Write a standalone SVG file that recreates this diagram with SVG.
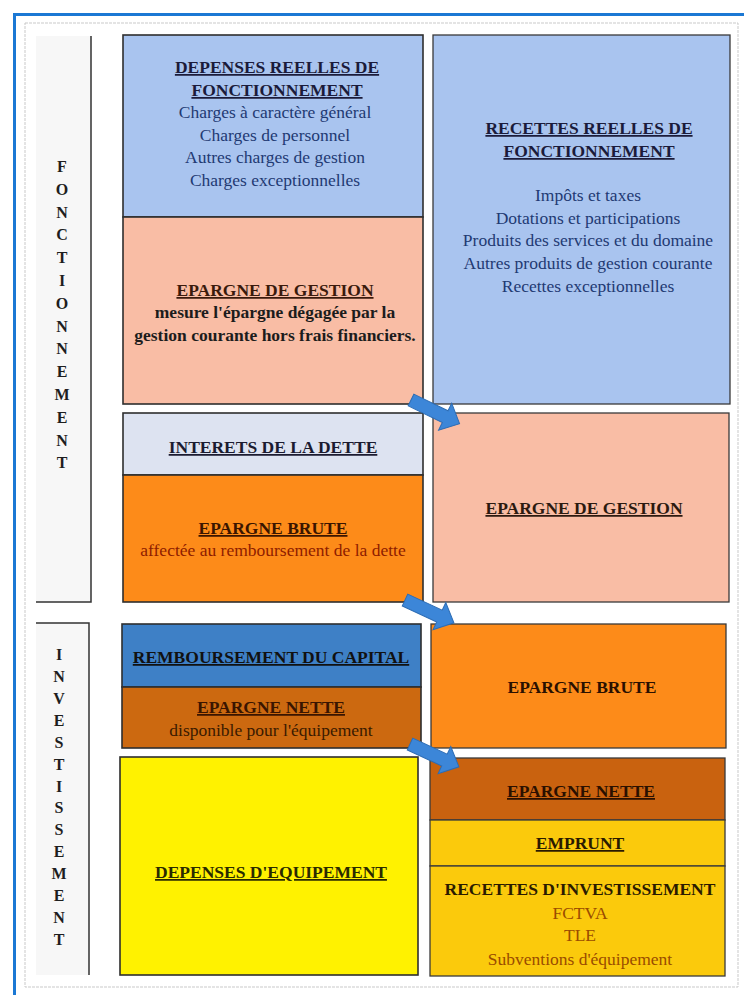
<svg xmlns="http://www.w3.org/2000/svg" width="744" height="995" viewBox="0 0 744 995">
<defs>
<style>
.t{font-family:"Liberation Serif","Times New Roman",serif;font-size:17.5px;text-anchor:middle}
.b{font-weight:bold}
.u{text-decoration:underline}
.lab{font-family:"Liberation Serif","Times New Roman",serif;font-size:16px;font-weight:bold;text-anchor:middle;fill:#1e1e1e}
.box{stroke:#2e2e2e;stroke-width:1.6}
.rbox{stroke:#3a3a3a;stroke-width:1.3}
.arr{fill:#3c86d8;stroke:#2c6cb4;stroke-width:1}
.navy{fill:#1f3a73}
.dark{fill:#1c1c1c}
</style>
<path id="arrowShape" d="M0 -6.5 H38 V-15 L54 0 L38 15 V6.5 H0 Z"/>
</defs>
<rect width="744" height="995" fill="#ffffff"/>
<path d="M14.5 1000 V14.5 H750" fill="none" stroke="#1b78d4" stroke-width="3"/>
<rect x="25" y="23" width="713" height="964" fill="none" stroke="#c9c9c9" stroke-width="1" stroke-dasharray="3 1"/>

<g id="label-fonctionnement">
<rect x="36" y="36" width="55" height="566" fill="#f7f7f7"/>
<path d="M91 36 V602 H36" fill="none" stroke="#333" stroke-width="1.5"/>
<text class="lab" x="62" y="172">F</text>
<text class="lab" x="62" y="195">O</text>
<text class="lab" x="62" y="218">N</text>
<text class="lab" x="62" y="240">C</text>
<text class="lab" x="62" y="263">T</text>
<text class="lab" x="62" y="286">I</text>
<text class="lab" x="62" y="309">O</text>
<text class="lab" x="62" y="332">N</text>
<text class="lab" x="62" y="354">N</text>
<text class="lab" x="62" y="377">E</text>
<text class="lab" x="62" y="400">M</text>
<text class="lab" x="62" y="423">E</text>
<text class="lab" x="62" y="446">N</text>
<text class="lab" x="62" y="468">T</text>
</g>

<g id="label-investissement">
<rect x="36" y="623" width="53" height="352" fill="#f7f7f7"/>
<path d="M36 623 H89 V975" fill="none" stroke="#333" stroke-width="1.5"/>
<text class="lab" x="59" y="660">I</text>
<text class="lab" x="59" y="682">N</text>
<text class="lab" x="59" y="704">V</text>
<text class="lab" x="59" y="726">E</text>
<text class="lab" x="59" y="748">S</text>
<text class="lab" x="59" y="770">T</text>
<text class="lab" x="59" y="792">I</text>
<text class="lab" x="59" y="813">S</text>
<text class="lab" x="59" y="835">S</text>
<text class="lab" x="59" y="857">E</text>
<text class="lab" x="59" y="879">M</text>
<text class="lab" x="59" y="901">E</text>
<text class="lab" x="59" y="923">N</text>
<text class="lab" x="59" y="945">T</text>
</g>

<g id="depenses-fonctionnement">
<rect class="box" x="123" y="35" width="300" height="182" fill="#a9c4ef"/>
<text class="t b u" x="277" y="73" fill="#1b1b3a">DEPENSES REELLES DE</text>
<text class="t b u" x="277" y="96" fill="#1b1b3a">FONCTIONNEMENT</text>
<text class="t navy" x="275" y="118">Charges à caractère général</text>
<text class="t navy" x="275" y="141">Charges de personnel</text>
<text class="t navy" x="275" y="163">Autres charges de gestion</text>
<text class="t navy" x="275" y="186">Charges exceptionnelles</text>
</g>

<g id="epargne-gestion-gauche">
<rect class="box" x="123" y="217" width="300" height="187" fill="#f9bda5"/>
<text class="t b u" x="275" y="296" fill="#3a1a0c">EPARGNE DE GESTION</text>
<text class="t b dark" x="275" y="318">mesure l'épargne dégagée par la</text>
<text class="t b dark" x="275" y="341">gestion courante hors frais financiers.</text>
</g>

<g id="recettes-fonctionnement">
<rect class="rbox" x="433" y="35" width="297" height="369" fill="#a9c4ef"/>
<text class="t b u" x="589" y="134" fill="#1b1b3a">RECETTES REELLES DE</text>
<text class="t b u" x="589" y="157" fill="#1b1b3a">FONCTIONNEMENT</text>
<text class="t navy" x="588" y="201">Impôts et taxes</text>
<text class="t navy" x="588" y="224">Dotations et participations</text>
<text class="t navy" x="588" y="246">Produits des services et du domaine</text>
<text class="t navy" x="588" y="269">Autres produits de gestion courante</text>
<text class="t navy" x="588" y="292">Recettes exceptionnelles</text>
</g>

<g id="interets-dette">
<rect class="box" x="123" y="413" width="300" height="62" fill="#dde3f1"/>
<text class="t b u" x="273" y="453" fill="#1b1b30">INTERETS DE LA DETTE</text>
</g>

<g id="epargne-brute-gauche">
<rect class="box" x="123" y="475" width="300" height="127" fill="#fd8b19"/>
<text class="t b u" x="273" y="534" fill="#3a1500">EPARGNE BRUTE</text>
<text class="t" x="273" y="556" fill="#8e1c00">affectée au remboursement de la dette</text>
</g>

<g id="epargne-gestion-droite">
<rect class="rbox" x="433" y="413" width="296" height="189" fill="#f9bda5"/>
<text class="t b u" x="584" y="514" fill="#2c1a10">EPARGNE DE GESTION</text>
</g>

<g id="remboursement-capital">
<rect class="box" x="122" y="624" width="299" height="63" fill="#3e80c6"/>
<text class="t b u" x="271" y="663" fill="#111111">REMBOURSEMENT DU CAPITAL</text>
</g>

<g id="epargne-nette-gauche">
<rect class="box" x="122" y="687" width="299" height="61" fill="#cc6910"/>
<text class="t b u" x="271" y="713" fill="#3a1500">EPARGNE NETTE</text>
<text class="t" x="271" y="736" fill="#3a1a00">disponible pour l'équipement</text>
</g>

<g id="epargne-brute-droite">
<rect class="rbox" x="431" y="624" width="295" height="124" fill="#fd8b19"/>
<text class="t b" x="582" y="693" fill="#2a1000">EPARGNE BRUTE</text>
</g>

<g id="depenses-equipement">
<rect class="box" x="120" y="757" width="298" height="218" fill="#fff200"/>
<text class="t b u" x="271" y="878" fill="#2a2a00">DEPENSES D'EQUIPEMENT</text>
</g>

<g id="epargne-nette-droite">
<rect class="rbox" x="430" y="758" width="295" height="62" fill="#c9620f"/>
<text class="t b u" x="581" y="797" fill="#2a1000">EPARGNE NETTE</text>
</g>

<g id="emprunt">
<rect class="rbox" x="430" y="820" width="295" height="46" fill="#fbca0c"/>
<text class="t b u" x="580" y="849" fill="#2a1a00">EMPRUNT</text>
</g>

<g id="recettes-investissement">
<rect class="rbox" x="430" y="866" width="295" height="110" fill="#fbca0c"/>
<text class="t b" x="580" y="895" fill="#2a1a00">RECETTES D'INVESTISSEMENT</text>
<text class="t" x="580" y="919" fill="#9a4c00">FCTVA</text>
<text class="t" x="580" y="941" fill="#9a4c00">TLE</text>
<text class="t" x="580" y="965" fill="#9a4c00">Subventions d'équipement</text>
</g>

<g id="connectors">
<use href="#arrowShape" class="arr" transform="translate(411 400) rotate(26)"/>
<use href="#arrowShape" class="arr" transform="translate(405 600) rotate(25)"/>
<use href="#arrowShape" class="arr" transform="translate(410 744) rotate(25)"/>
</g>
</svg>
